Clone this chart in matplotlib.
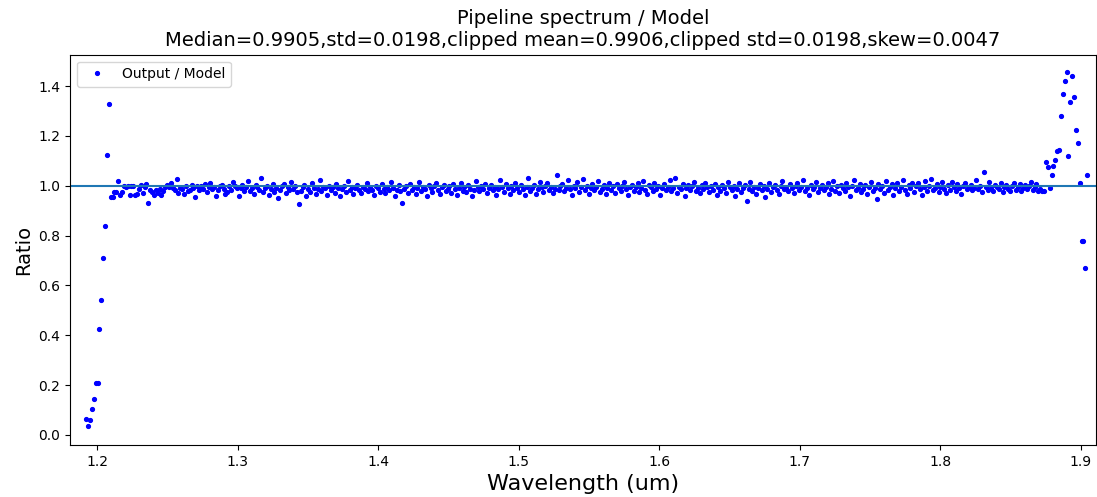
import matplotlib
matplotlib.use('Agg')
import matplotlib.pyplot as plt
import numpy as np

# Wavelength grid: evenly sampled spectrum
wave_start = 1.1922
wave_step = 0.001339

# Ratio of pipeline output to model, one value per wavelength sample
ratio = [
    # blue edge roll-off
    0.064, 0.037, 0.058, 0.104, 0.145, 0.210, 0.208, 0.424, 0.541, 0.710,
    0.839, 1.123, 1.326,
    # flat part
    0.954, 0.954, 0.973, 0.973, 1.019, 0.964, 0.973, 1.000, 0.996, 0.998, 0.963, 0.999, 1.000, 0.964, 0.968, 0.985, 1.003, 0.972, 0.995, 1.008,
    0.932, 0.982, 0.975, 0.962, 0.981, 0.972, 0.985, 0.963, 0.978, 0.996, 1.002, 0.993, 1.010, 0.990, 0.981, 1.025, 0.972, 0.990, 0.988, 0.967,
    0.998, 0.978, 0.983, 1.003, 0.992, 0.955, 1.000, 0.981, 0.999, 0.988, 1.007, 0.973, 0.996, 1.012, 0.988, 0.995, 0.960, 0.982, 0.997, 1.001,
    0.987, 0.966, 0.974, 1.000, 0.984, 1.013, 0.998, 0.990, 0.958, 0.989, 1.004, 0.980, 0.995, 1.020, 0.978, 0.991, 0.968, 1.001, 0.994, 0.983,
    1.030, 0.976, 0.992, 0.999, 0.963, 0.985, 1.006, 0.975, 0.990, 0.952, 0.983, 0.997, 1.008, 0.969, 0.993, 0.981, 1.015, 0.987, 0.998, 0.975,
    0.925, 0.979, 0.994, 1.003, 0.958, 0.988, 0.976, 1.010, 0.992, 0.967, 0.985, 1.022, 0.978, 0.996, 0.989, 0.961, 1.000, 0.984, 0.993, 0.972,
    1.005, 0.990, 0.958, 0.986, 0.999, 0.976, 1.017, 0.983, 0.994, 0.965, 0.989, 1.002, 0.981, 0.970, 0.996, 0.987, 1.011, 0.978, 0.993, 0.984,
    0.962, 0.999, 0.990, 0.975, 1.008, 0.986, 0.969, 0.995, 0.981, 1.013, 0.992, 0.957, 0.984, 1.001, 0.977, 0.930, 0.988, 0.998, 0.972, 1.007,
    0.983, 0.994, 0.966, 0.989, 1.015, 0.978, 0.996, 0.985, 0.960, 1.003, 0.990, 0.974, 0.999, 1.010, 0.982, 0.968, 0.993, 1.004, 0.979, 0.988,
    0.997, 0.971, 1.006, 0.986, 0.963, 0.992, 1.012, 0.980, 0.995, 0.975, 1.001, 0.988, 0.958, 0.984, 1.018, 0.993, 0.977, 0.999, 0.987, 1.008,
    0.970, 0.990, 1.003, 0.981, 0.996, 0.964, 0.985, 1.021, 0.994, 0.976, 1.007, 0.989, 0.967, 0.998, 0.983, 1.011, 0.992, 0.973, 1.002, 0.986,
    0.961, 0.995, 1.030, 0.979, 0.990, 1.004, 0.968, 0.987, 1.016, 0.993, 0.975, 0.999, 1.009, 0.982, 0.996, 0.970, 0.988, 1.045, 0.984, 0.997,
    1.006, 0.978, 0.991, 1.024, 0.985, 0.962, 1.000, 0.989, 1.013, 0.976, 0.994, 1.028, 0.983, 0.998, 0.967, 0.990, 1.005, 0.981, 0.995, 1.017,
    0.973, 0.988, 1.002, 0.965, 0.992, 1.010, 0.984, 0.997, 0.971, 1.007, 0.989, 0.978, 0.999, 1.014, 0.986, 0.962, 0.993, 1.003, 0.980, 0.996,
    1.009, 0.975, 0.990, 1.019, 0.983, 0.968, 1.001, 0.994, 0.979, 1.012, 0.987, 0.998, 0.964, 0.991, 1.006, 0.982, 0.995, 1.022, 0.977, 0.989,
    1.030, 0.972, 0.996, 0.985, 1.008, 0.960, 0.992, 1.003, 0.981, 0.997, 1.015, 0.978, 0.990, 0.969, 1.001, 0.986, 1.011, 0.994, 0.975, 0.999,
    0.984, 1.007, 0.963, 0.993, 0.980, 1.004, 0.989, 0.970, 1.016, 0.995, 0.982, 0.998, 0.958, 0.987, 1.009, 0.976, 0.992, 1.002, 0.940, 0.985,
    1.013, 0.979, 0.996, 0.966, 0.990, 1.005, 0.983, 0.997, 0.955, 0.988, 1.010, 0.974, 0.994, 1.001, 0.981, 0.967, 0.999, 1.018, 0.986, 0.992,
    0.977, 1.006, 0.989, 0.970, 0.998, 1.012, 0.983, 0.995, 1.021, 0.979, 0.991, 0.963, 1.003, 0.987, 0.996, 1.014, 0.975, 0.990, 1.001, 0.982,
    0.994, 1.009, 0.968, 0.986, 1.017, 0.980, 0.997, 0.971, 1.004, 0.989, 0.978, 1.011, 0.993, 0.960, 0.999, 1.023, 0.984, 0.991, 1.006, 0.975,
    0.988, 1.002, 0.965, 0.996, 1.015, 0.979, 0.992, 0.945, 1.008, 0.985, 0.998, 0.970, 1.020, 0.983, 0.994, 1.005, 0.962, 0.990, 1.012, 0.977,
    0.995, 1.024, 0.981, 0.968, 1.003, 0.989, 1.010, 0.974, 0.997, 1.010, 0.986, 0.962, 0.993, 1.019, 0.980, 0.999, 1.028, 0.984, 0.991, 1.006,
    0.976, 0.996, 1.013, 0.988, 0.970, 1.002, 0.984, 1.016, 0.993, 0.979, 1.008, 0.990, 0.967, 0.998, 1.011, 0.985, 0.995, 1.004, 0.981, 0.992,
    1.021, 0.987, 0.999, 0.973, 1.055, 0.994, 0.983, 1.015, 0.990, 0.978, 1.001, 0.996, 0.985, 1.009, 0.976, 0.993, 1.003, 0.988, 0.980, 0.997,
    1.010, 0.984, 0.995, 1.006, 0.979, 0.991, 1.002, 0.987, 0.999, 1.013, 0.983, 0.994, 1.005, 0.977, 0.988, 0.979,
    # red edge
    0.979, 1.096, 1.076, 0.989, 1.043, 1.079, 1.103, 1.138, 1.145, 1.280,
    1.368, 1.419, 1.458, 1.120, 1.335, 1.441, 1.357, 1.224, 1.173, 1.012,
    0.780, 0.780, 0.669, 1.042,
]

title = ('Pipeline spectrum / Model\n'
         'Median=0.9905,std=0.0198,clipped mean=0.9906,clipped std=0.0198,skew=0.0047')

wavelength = wave_start + wave_step * np.arange(len(ratio))

fig = plt.figure(figsize=(10.97, 4.97), dpi=100)
ax = fig.add_axes([0.064, 0.105, 0.935, 0.785])

# Scatter of ratio values with unity reference line
ax.plot(wavelength, ratio, '.', color='blue', markersize=5.5, label='Output / Model')
ax.axhline(1.0)

ax.set_xlim(1.1808, 1.9107)
ax.set_ylim(-0.04, 1.526)
ax.set_xticks([1.2, 1.3, 1.4, 1.5, 1.6, 1.7, 1.8, 1.9])
ax.set_yticks([0.0, 0.2, 0.4, 0.6, 0.8, 1.0, 1.2, 1.4])
ax.tick_params(labelsize=10)

ax.set_xlabel('Wavelength (um)', fontsize=16)
ax.set_ylabel('Ratio', fontsize=14)
ax.set_title(title, fontsize=14)
ax.legend(loc='upper left', fontsize=10)

fig.savefig('out.png', dpi=100)
